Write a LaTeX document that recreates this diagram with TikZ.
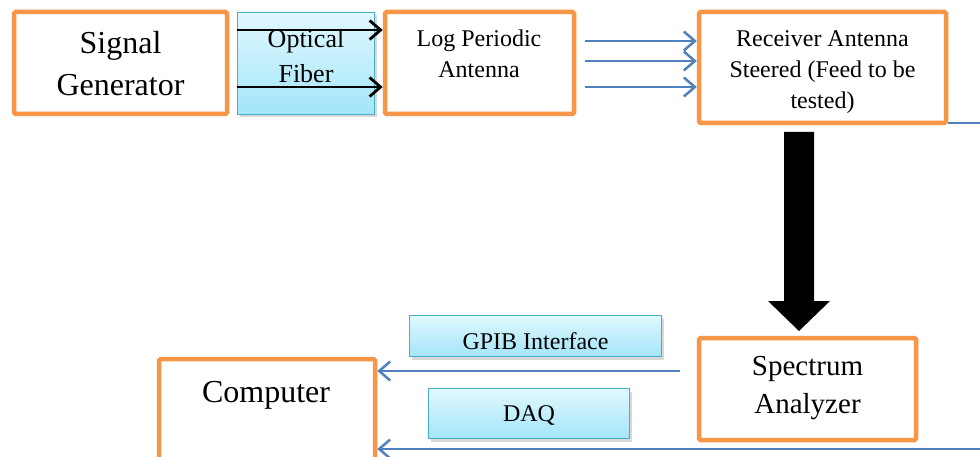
\documentclass[tikz,border=0pt]{standalone}
\usepackage{fontspec}
\setmainfont{Liberation Serif}
\usetikzlibrary{arrows.meta,shadows,calc}
\definecolor{orgc}{HTML}{F79646}
\definecolor{bluec}{HTML}{4F81BD}
\definecolor{lbtop}{HTML}{E0F8FE}
\definecolor{lbbot}{HTML}{A4E5F9}
\definecolor{lbedge}{HTML}{4BACC6}
\tikzset{
 obox/.style={draw=orgc, line width=4.5pt, fill=white, rounded corners=1.5pt, inner sep=0pt},
 lbox/.style={draw=lbedge, line width=1.5pt, top color=lbtop, bottom color=lbbot, inner sep=0pt,
   drop shadow={shadow xshift=2pt, shadow yshift=-3pt, opacity=0.3}},
 txt/.style={inner sep=0pt, align=center, anchor=north},
 blkarrow/.style={draw=black, line width=2.8pt, -{Straight Barb[length=11pt,width=19pt]}},
 bluearrow/.style={draw=bluec, line width=2.5pt, -{Straight Barb[length=11pt,width=19pt]}},
 blueline/.style={draw=bluec, line width=2.5pt},
}
\begin{document}
\begin{tikzpicture}[x=1pt,y=-1pt]
\useasboundingbox (0,0) rectangle (980,457);
\clip (0,0) rectangle (980,457);
\fill[white] (0,0) rectangle (980,457);
% orange boxes
\node[obox, minimum width=213pt, minimum height=102pt] (sg) at (120.5,63) {};
\node[obox, minimum width=189pt, minimum height=102pt] (lpa) at (479.5,63) {};
\node[obox, minimum width=247pt, minimum height=111pt] (rx) at (822.5,67.5) {};
\node[obox, minimum width=217pt, minimum height=102pt] (sa) at (807.5,389) {};
\node[obox, minimum width=216pt, minimum height=121pt] (comp) at (267,419.5) {};
% light blue boxes
\node[lbox, minimum width=137pt, minimum height=102pt] (of) at (306,63.5) {};
\node[lbox, minimum width=252pt, minimum height=41pt] (gpib) at (535.5,336) {};
\node[lbox, minimum width=201pt, minimum height=50pt] (daq) at (529,413.5) {};
% texts
\node[txt, font=\fontsize{32}{42}\selectfont] (sgT) at (120.5,31) {Signal\\Generator};
\node[txt, font=\fontsize{26}{35}\selectfont] (ofT) at (306,29) {Optical\\Fiber};
\node[txt, font=\fontsize{24}{31}\selectfont] (lpaT) at (479,29.5) {Log Periodic\\Antenna};
\node[txt, font=\fontsize{24}{31}\selectfont] (rxT) at (822.5,30.5) {Receiver Antenna\\Steered (Feed to be\\tested)};
\node[txt, font=\fontsize{29}{38}\selectfont] (saT) at (807.5,356) {Spectrum\\Analyzer};
\node[txt, font=\fontsize{32}{42}\selectfont] (compT) at (266,381) {Computer};
\node[txt, font=\fontsize{24}{31}\selectfont] (gpibT) at (535.5,332.5) {GPIB Interface};
\node[txt, font=\fontsize{24}{31}\selectfont] (daqT) at (529,405.5) {DAQ};
% optical fiber arrows
\coordinate (f1) at (of.west |- 0,30);
\coordinate (f2) at (of.west |- 0,87);
\draw[blkarrow] (f1) -- (f1 -| lpa.west);
\draw[blkarrow] (f2) -- (f2 -| lpa.west);
% radiated arrows
\coordinate (r1) at (585,41);
\coordinate (r2) at (585,61);
\coordinate (r3) at (585,87);
\draw[bluearrow] (r1) -- (r1 -| rx.west);
\draw[bluearrow] (r2) -- (r2 -| rx.west);
\draw[bluearrow] (r3) -- (r3 -| rx.west);
% line leaving receiver to the right
\coordinate (rxout) at (980,123);
\draw[blueline] (rxout -| rx.east) -- (rxout);
% big arrow
\coordinate (bA) at (799,132);
\coordinate (bB) at (799,331);
\fill[black] ($(bA)+(-15,0)$) -- ($(bA)+(15,0)$) -- ($(bB)+(15,-30)$) -- ($(bB)+(31,-30)$)
  -- (bB) -- ($(bB)+(-31,-30)$) -- ($(bB)+(-15,-30)$) -- cycle;
% links to computer
\coordinate (gS) at (680,371);
\coordinate (dS) at (980,449);
\draw[bluearrow] (gS) -- (gS -| comp.east);
\draw[bluearrow] (dS) -- (dS -| comp.east);
\end{tikzpicture}
\end{document}
